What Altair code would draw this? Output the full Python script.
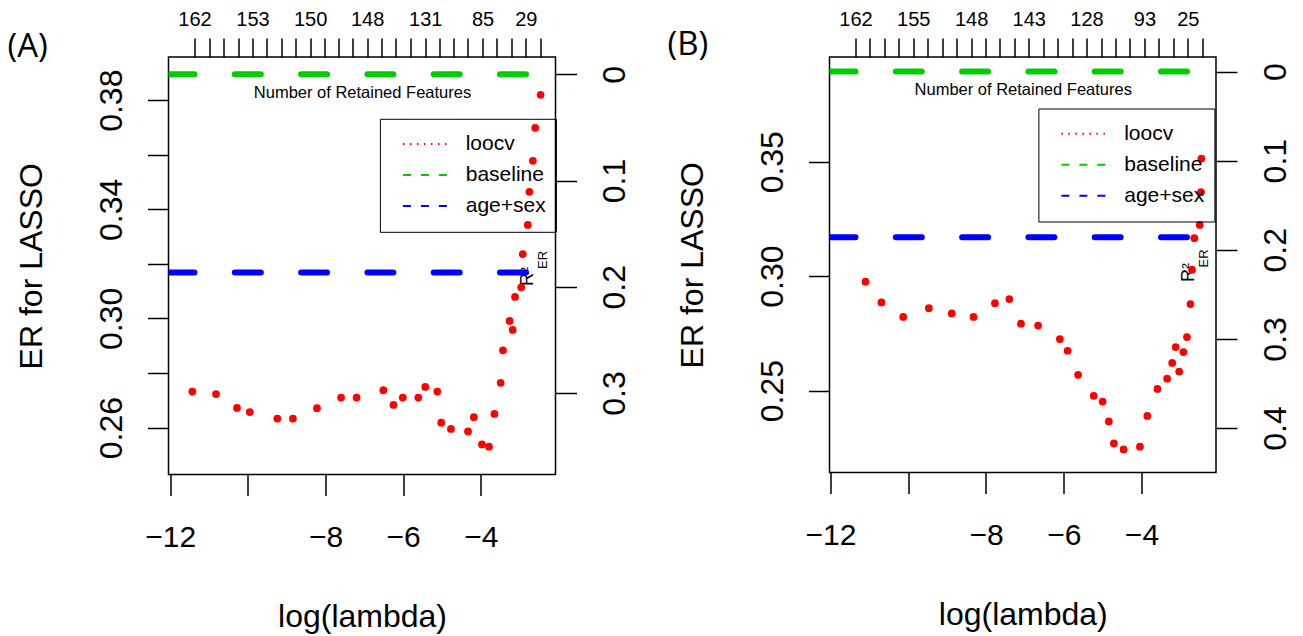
import altair as alt
import pandas as pd

FONT = "Liberation Sans"
TAG_FONT = "Open Sans"

# ---------------- Panel A ----------------
lam_a = [-11.43, -10.82, -10.28, -9.95, -9.24, -8.84, -8.22, -7.60, -7.20, -6.51,
         -6.25, -6.01, -5.61, -5.43, -5.12, -5.02, -4.77, -4.33, -4.18, -3.97,
         -3.79, -3.65, -3.49, -3.43, -3.26, -3.18, -3.12, -2.96, -2.92, -2.79,
         -2.75, -2.66, -2.60, -2.46]
er_a = [0.2732, 0.2723, 0.2672, 0.2657, 0.2633, 0.2633, 0.2671, 0.2710, 0.2710, 0.2737,
        0.2683, 0.2710, 0.2710, 0.2749, 0.2732, 0.2618, 0.2595, 0.2586, 0.2638, 0.2538,
        0.2530, 0.2650, 0.2764, 0.2883, 0.2991, 0.2958, 0.3079, 0.3114, 0.3236, 0.3343,
        0.3464, 0.3578, 0.3699, 0.3820]
baseline_a = 0.3895
agesex_a = 0.3168
top_ticks_a = [-11.374, -10.996, -10.627, -10.249, -9.880, -9.512, -9.141, -8.773, -8.395,
               -8.034, -7.666, -7.297, -6.927, -6.551, -6.190, -5.812, -5.433, -5.065,
               -4.704, -4.336, -3.957, -3.589, -3.218, -2.842, -2.471]
top_labels_a = ["162", "", "", "", "153", "", "", "", "150", "", "", "", "148", "", "", "",
                "131", "", "", "", "85", "", "", "29", ""]
yticks_a = [0.26, 0.28, 0.30, 0.32, 0.34, 0.36, 0.38]
ylabels_a = ["0.26", "", "0.30", "", "0.34", "", "0.38"]
r2ticks_a = [0, 0.1, 0.2, 0.3]

# ---------------- Panel B ----------------
lam_b = [-11.10, -10.69, -10.13, -9.47, -8.88, -8.32, -7.77, -7.40, -7.10, -6.66,
         -6.10, -5.90, -5.63, -5.23, -5.00, -4.84, -4.71, -4.46, -4.04, -3.85,
         -3.59, -3.34, -3.21, -3.12, -3.03, -2.92, -2.83, -2.74, -2.70, -2.64,
         -2.50, -2.47, -2.46]
er_b = [0.2976, 0.2885, 0.2822, 0.2860, 0.2837, 0.2822, 0.2882, 0.2900, 0.2792, 0.2784,
        0.2725, 0.2674, 0.2569, 0.2477, 0.2452, 0.2365, 0.2269, 0.2243, 0.2255, 0.2389,
        0.2507, 0.2552, 0.2621, 0.2690, 0.2583, 0.2668, 0.2734, 0.2878, 0.3028, 0.3166,
        0.3224, 0.3367, 0.3514]
baseline_b = 0.3894
agesex_b = 0.3170
top_ticks_b = [-11.357, -10.989, -10.611, -10.243, -9.873, -9.497, -9.127, -8.759, -8.381,
               -8.013, -7.645, -7.267, -6.899, -6.529, -6.153, -5.783, -5.415, -5.037,
               -4.669, -4.301, -3.923, -3.555, -3.185, -2.809, -2.438]
top_labels_b = ["162", "", "", "", "155", "", "", "", "148", "", "", "", "143", "", "", "",
                "128", "", "", "", "93", "", "", "25", ""]
yticks_b = [0.25, 0.30, 0.35]
ylabels_b = ["0.25", "0.30", "0.35"]
r2ticks_b = [0, 0.1, 0.2, 0.3, 0.4]

xticks = [-12, -10, -8, -6, -4]
xlabels = ["\u221212", "", "\u22128", "\u22126", "\u22124"]
series = ["loocv", "baseline", "age+sex"]
colors = ["#FF0000", "#00CD00", "#0000FF"]
legend_dashes = [[1.5, 5.5], [8, 10], [8, 10]]


def lab_expr(vals, labs):
    return ("[" + ",".join("'%s'" % l for l in labs) + "][indexof(["
            + ",".join(repr(v) for v in vals) + "], datum.value)]")


def panel(tag, lam, er, base, agesex, top_ticks, top_labels, yticks, ylabels, r2ticks,
          x_dom, er_dom, w, h, top_title_y, leg_x, leg_y, tag_x, tag_y, r2_y, sub_y):
    pts = pd.DataFrame({"lam": lam, "er": er})
    refs = pd.DataFrame({"er": [base, agesex], "clr": [colors[1], colors[2]],
                         "x0": [x_dom[0]] * 2, "x1": [x_dom[1]] * 2})
    leg_rows = pd.DataFrame({"series": series, "er": [base, base, agesex]})
    xs = alt.Scale(domain=x_dom, nice=False, zero=False)
    ys = alt.Scale(domain=er_dom, nice=False, zero=False)
    r2_dom = [1 - er_dom[1] / base, 1 - er_dom[0] / base]
    r2s = alt.Scale(domain=r2_dom, reverse=True, nice=False, zero=False)

    legend = alt.Legend(
        title=None, orient="none", legendX=leg_x, legendY=leg_y, direction="vertical",
        strokeColor="black", padding=10, symbolType="M-2.2,0H2.2", symbolSize=400,
        symbolStrokeWidth=2, symbolOpacity=1, symbolOffset=24, labelOffset=29.8,
        clipHeight=30.3, rowPadding=0, labelFont=FONT, labelFontSize=21,
        labelColor="black")

    leg_layer = alt.Chart(leg_rows).mark_rule(opacity=0, strokeWidth=2).encode(
        y=alt.Y("er:Q", scale=ys, axis=None),
        color=alt.Color("series:N", scale=alt.Scale(domain=series, range=colors),
                        legend=legend),
        strokeDash=alt.StrokeDash("series:N",
                                  scale=alt.Scale(domain=series, range=legend_dashes),
                                  legend=legend))

    rules = alt.Chart(refs).mark_rule(strokeWidth=6, strokeDash=[26, 40.3],
                                      strokeCap="round", clip=True).encode(
        x=alt.X("x0:Q", scale=xs, axis=None), x2="x1:Q",
        y=alt.Y("er:Q", scale=ys, axis=None),
        color=alt.Color("clr:N", scale=None))

    bottom_axis = alt.Axis(
        orient="bottom", values=xticks, labelExpr=lab_expr(xticks, xlabels),
        tickSize=21, labelFontSize=30, labelPadding=50.7, labelBaseline="alphabetic",
        labelAngle=0, labelFlush=False, labelOverlap=False,
        title="log(lambda)", titleX=w / 2, titleY=152, titleAlign="center",
        titleBaseline="alphabetic", titleFontSize=32)
    left_axis = alt.Axis(
        orient="left", values=yticks, labelExpr=lab_expr(yticks, ylabels),
        tickSize=21, labelFontSize=32, labelPadding=26, labelAngle=270,
        labelAlign="center", labelBaseline="alphabetic", labelOverlap=False,
        labelFlush=False,
        title="ER for LASSO", titleX=-127, titleY=h / 2, titleAngle=270,
        titleAlign="center", titleBaseline="alphabetic", titleFontSize=32)

    points = alt.Chart(pts).mark_circle(color="#FF0000", size=60, opacity=1).encode(
        x=alt.X("lam:Q", scale=xs, axis=bottom_axis),
        y=alt.Y("er:Q", scale=ys, axis=left_axis))

    top_axis = alt.Axis(
        orient="top", values=top_ticks, labelExpr=lab_expr(top_ticks, top_labels),
        tickSize=19, labelFontSize=20, labelPadding=13, labelBaseline="alphabetic",
        labelAngle=0, labelFlush=False, labelOverlap=False,
        title="Number of Retained Features", titleX=w / 2, titleY=top_title_y,
        titleAlign="center", titleBaseline="middle", titleFontSize=16.5)
    right_axis = alt.Axis(
        orient="right", values=r2ticks, format=".1~f", tickSize=21, labelFontSize=32,
        labelPadding=48, labelAngle=270, labelAlign="center", labelBaseline="alphabetic",
        labelOverlap=False, labelFlush=False,
        title="R\u00b2", titleX=-23, titleY=r2_y, titleAngle=270, titleAlign="left",
        titleBaseline="alphabetic", titleFontSize=18)

    r2layer = alt.Chart(pts).transform_calculate(
        r2="1 - datum.er / %r" % base).mark_point(opacity=0).encode(
        x=alt.X("lam:Q", scale=xs, axis=top_axis),
        y=alt.Y("r2:Q", scale=r2s, axis=right_axis))

    sub_axis = alt.Axis(
        orient="right", ticks=False, labels=False, domain=False, grid=False,
        title="ER", titleX=-9, titleY=sub_y, titleAngle=270, titleAlign="left",
        titleBaseline="alphabetic", titleFontSize=13)
    sublayer = alt.Chart(pts).mark_point(opacity=0).encode(
        x=alt.X("lam:Q", scale=xs, axis=None),
        y=alt.Y("er:Q", scale=ys, axis=sub_axis))

    tag_axis = alt.Axis(
        orient="left", ticks=False, labels=False, domain=False, grid=False,
        title=tag, titleX=tag_x, titleY=tag_y, titleAngle=0, titleAlign="left",
        titleBaseline="alphabetic", titleFont=TAG_FONT, titleFontSize=33)
    taglayer = alt.Chart(pts).mark_point(opacity=0).encode(
        x=alt.X("lam:Q", scale=xs, axis=None),
        y=alt.Y("er:Q", scale=ys, axis=tag_axis))

    return alt.layer(leg_layer, rules, points, r2layer, sublayer, taglayer).resolve_scale(
        y="independent").resolve_axis(x="independent", y="independent").properties(
        width=w, height=h)


pa = panel("(A)", lam_a, er_a, baseline_a, agesex_a, top_ticks_a, top_labels_a,
           yticks_a, ylabels_a, r2ticks_a, [-12.044, -2.077], [0.2428, 0.39584],
           387, 417.5, 35.5, 211.4, 61.8, -161.5, -0.5, 228.5, 211.5)
pb = panel("(B)", lam_b, er_b, baseline_b, agesex_b, top_ticks_b, top_labels_b,
           yticks_b, ylabels_b, r2ticks_b, [-12.026, -2.083], [0.2142, 0.39576],
           386.5, 415.5, 32.5, 208.9, 51.5, -162.5, -2.5, 224.5, 210)

chart = alt.concat(pa, pb, columns=2, spacing=34).properties(
    padding={"left": -2.5, "top": 0, "right": 0, "bottom": 0}
).resolve_scale(color="independent", strokeDash="independent").configure_view(
    stroke="black", strokeWidth=1.5).configure_axis(
    grid=False, domain=False, tickColor="black", tickWidth=1.5, labelColor="black",
    titleColor="black", labelFont=FONT, titleFont=FONT, titleFontWeight="normal")

chart.save("out.html", embed_options={"renderer": "svg", "actions": False})
